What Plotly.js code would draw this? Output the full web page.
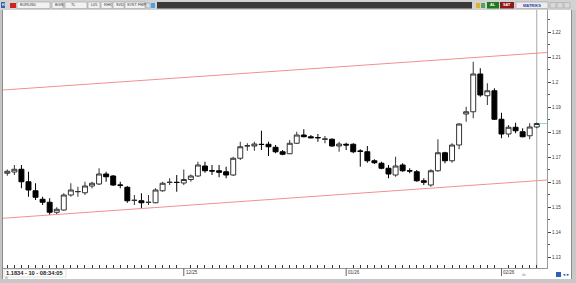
<!DOCTYPE html>
<html><head><meta charset="utf-8">
<script src="https://cdn.plot.ly/plotly-3.0.1.min.js"></script>
<style>
body{margin:0;width:576px;height:283px;overflow:hidden;background:#fff}
#chart{position:absolute;left:0;top:0;width:576px;height:283px}
</style></head><body>
<div id="chart"></div>
<script>
// ---- data (EURUSD daily candles) ----
const open  = [1.1635,1.1640,1.1651,1.1601,1.1565,1.1531,1.1519,1.1479,1.1488,1.1548,
               1.1561,1.1557,1.1584,1.1592,1.1632,1.1624,1.1588,1.1579,1.1526,1.1525,
               1.1518,1.1517,1.1565,1.1598,1.1599,1.1596,1.1610,1.1624,1.1664,1.1645,
               1.1645,1.1641,1.1628,1.1695,1.1744,1.1744,1.1751,1.1751,1.1739,1.1721,
               1.1713,1.1755,1.1788,1.1781,1.1778,1.1771,1.1771,1.1744,1.1751,1.1751,
               1.1724,1.1721,1.1685,1.1675,1.1655,1.1628,1.1668,1.1645,1.1641,1.1605,
               1.1588,1.1645,1.1717,1.1685,1.1748,1.1872,1.1881,1.2032,1.1945,1.1965,
               1.1851,1.1792,1.1819,1.1801,1.1785,1.1820];
const high  = [1.1650,1.1668,1.1668,1.1641,1.1595,1.1541,1.1535,1.1499,1.1555,1.1595,
               1.1581,1.1601,1.1601,1.1655,1.1641,1.1628,1.1601,1.1584,1.1548,1.1555,
               1.1548,1.1575,1.1601,1.1615,1.1628,1.1650,1.1630,1.1681,1.1681,1.1668,
               1.1668,1.1661,1.1701,1.1761,1.1755,1.1761,1.1805,1.1761,1.1748,1.1728,
               1.1768,1.1801,1.1811,1.1788,1.1792,1.1784,1.1775,1.1761,1.1757,1.1755,
               1.1731,1.1744,1.1691,1.1681,1.1668,1.1701,1.1675,1.1655,1.1648,1.1615,
               1.1651,1.1771,1.1721,1.1755,1.1835,1.1901,1.2081,1.2055,1.1995,1.1975,
               1.1877,1.1828,1.1837,1.1815,1.1835,1.1837];
const low   = [1.1625,1.1628,1.1575,1.1541,1.1528,1.1508,1.1468,1.1468,1.1485,1.1541,
               1.1541,1.1548,1.1575,1.1588,1.1601,1.1584,1.1575,1.1517,1.1508,1.1495,
               1.1508,1.1515,1.1561,1.1588,1.1561,1.1588,1.1601,1.1621,1.1637,1.1628,
               1.1619,1.1615,1.1624,1.1688,1.1725,1.1725,1.1728,1.1704,1.1715,1.1707,
               1.1715,1.1752,1.1779,1.1775,1.1761,1.1755,1.1741,1.1721,1.1728,1.1715,
               1.1661,1.1677,1.1672,1.1651,1.1615,1.1621,1.1641,1.1635,1.1601,1.1588,
               1.1581,1.1641,1.1675,1.1677,1.1731,1.1841,1.1855,1.1941,1.1908,1.1848,
               1.1775,1.1779,1.1795,1.1779,1.1771,1.1815];
const close = [1.1643,1.1651,1.1601,1.1568,1.1539,1.1519,1.1479,1.1491,1.1548,1.1568,
               1.1562,1.1584,1.1595,1.1632,1.1621,1.1588,1.1587,1.1525,1.1527,1.1517,
               1.1519,1.1568,1.1595,1.1599,1.1598,1.1610,1.1624,1.1668,1.1645,1.1644,
               1.1639,1.1628,1.1695,1.1741,1.1745,1.1752,1.1750,1.1741,1.1721,1.1711,
               1.1755,1.1788,1.1781,1.1777,1.1777,1.1772,1.1744,1.1752,1.1748,1.1721,
               1.1723,1.1685,1.1677,1.1655,1.1632,1.1664,1.1645,1.1644,1.1605,1.1599,
               1.1645,1.1717,1.1685,1.1748,1.1832,1.1881,1.2032,1.1948,1.1965,1.1851,
               1.1792,1.1819,1.1805,1.1781,1.1820,1.1834];
const yTickVals = [1.13,1.14,1.15,1.16,1.17,1.18,1.19,1.20,1.21,1.22];
const yTickText = ['1.13','1.14','1.15','1.16','1.17','1.18','1.19','1.2','1.21','1.22'];
const monthIdx    = [26,49,71];
const monthLabels = ['12/25','01/26','02/26'];
const trendX = [0.39,77.45];
const upperY = [1.1968,1.2118];
const lowerY = [1.1455,1.1608];
const lastPrice = 1.1834;
const statusText = '1.1834 - 10 - 08:34:05';
const toolbarItems = [
  {x0:17,x1:50,tx:19,text:'EURUSD'},
  {x0:52,x1:63,tx:54,text:'BGN'},
  {x0:65,x1:87,tx:70,text:'TL'},
  {x0:88,x1:100,tx:89.5,text:'L05'},
  {x0:101,x1:112,tx:102.5,text:'KHK'},
  {x0:113,x1:124,tx:114.5,text:'SVD'},
  {x0:125,x1:145,tx:126,text:'SYKT FMP'}
];

// ---- build ----
const idx = close.map((_, k) => k + 1);
const W = 576, H = 283, L = 3, R = 547, T = 10, B = 268;
const px = x => (x - L) / (R - L);
const py = y => (B - y) / (B - T);
const tickIdx = idx.filter(i => monthIdx.indexOf(i) < 0);

const shapes = [];
const ann = [];
function rect(x0, y0, x1, y1, fill, lc, lw) {
  shapes.push({type:'rect', xref:'paper', yref:'paper', x0:px(x0), x1:px(x1), y0:py(y1), y1:py(y0),
    fillcolor:fill, line:{color:lc || fill, width: lw === undefined ? (lc ? 1 : 0) : lw}, layer:'above'});
}
function txt(x, y, t, size, color, anchor, bold) {
  ann.push({xref:'paper', yref:'paper', x:px(x), y:py(y), text: bold ? '<b>'+t+'</b>' : t, showarrow:false,
    xanchor: anchor || 'left', yanchor:'middle', borderpad:0,
    font:{size:size, color:color, family:'Liberation Sans, Arial, sans-serif'}});
}

// cursor line through last candle & current price marker
shapes.push({type:'line', xref:'x', yref:'paper', x0:76, x1:76, y0:0, y1:1, line:{color:'#a8a8a8', width:1}, layer:'below'});
shapes.push({type:'line', xref:'x', yref:'y', x0:76.35, x1:77.45, y0:lastPrice, y1:lastPrice, line:{color:'#7fdede', width:1}, layer:'above'});

// month markers
monthIdx.forEach((m, k) => {
  shapes.push({type:'line', xref:'x', yref:'paper', x0:m, x1:m, y0:py(268), y1:py(276), line:{color:'#666', width:1}});
  ann.push({xref:'x', yref:'paper', x:m, xshift:1, y:py(272.5), text:monthLabels[k], showarrow:false,
    xanchor:'left', yanchor:'middle', borderpad:0, font:{size:4.5, color:'#333', family:'Liberation Sans, Arial, sans-serif'}});
});

// frame
rect(0, 0, 3, 283, '#c4c4c4');
shapes.push({type:'line', xref:'paper', yref:'paper', x0:px(2.5), x1:px(2.5), y0:py(10), y1:py(279), line:{color:'#8c8c8c', width:1}, layer:'above'});
rect(571, 0, 576, 283, '#c8c8c8');
shapes.push({type:'line', xref:'paper', yref:'paper', x0:px(571.5), x1:px(571.5), y0:py(10), y1:py(279), line:{color:'#8c8c8c', width:1}, layer:'above'});
rect(0, 279, 576, 283, '#c8c8c8');
rect(0, 0, 576, 10, '#d2d2d2');
// toolbar
rect(1, 2, 5, 8, '#3b5fa8');
txt(3, 5, 'H', 3.5, '#fff', 'center', true);
rect(10, 3, 16, 8, '#d02020');
toolbarItems.forEach(it => { rect(it.x0, 2, it.x1, 8.5, '#f2f2f2', '#a0a0a0', 0.6); txt(it.tx, 5.3, it.text, 3.8, '#333'); });
rect(146, 3, 150, 8, '#e0e0e0', '#a0a0a0', 0.6);
rect(151, 3, 155, 8, '#4aa3e0');
rect(157, 2, 472, 8.5, '#3a3a3a');
rect(476, 3, 480, 8, '#e0b030');
rect(481, 3, 485, 8, '#5aa05a');
rect(487, 2, 499, 8.5, '#1f7a1f');
txt(493, 5.3, 'AL', 3.8, '#ffffff', 'center', true);
rect(500, 2, 514, 8.5, '#8a1a1a');
txt(507, 5.3, 'SAT', 3.8, '#ffffff', 'center', true);
rect(516, 2, 548, 8.5, '#ececf2', '#a0a0a0', 0.6);
txt(532, 5.3, 'MATRIKS', 4, '#2a3f9a', 'center', true);
rect(550, 2.5, 556, 8, '#d8d8d8', '#a8a8a8', 0.6);
rect(557, 2.5, 563, 8, '#d8d8d8', '#a8a8a8', 0.6);
rect(564, 2.5, 570, 8, '#d8d8d8', '#a8a8a8', 0.6);
// status bar
rect(4, 269.5, 66, 277, '#ffffff', '#d0d0d0', 0.6);
txt(4.5, 273.3, statusText, 5.7, '#222', 'left', true);
txt(4, 278, 'ılı', 3.5, '#666', 'left');
txt(521, 274.5, 'ılıı', 3.5, '#666', 'left');
rect(556, 272, 561, 277, '#3060b0');
txt(566, 274.5, '◄►', 4, '#2050a0', 'center');

const traces = [
  {type:'scatter', mode:'lines', x:trendX, y:upperY, line:{color:'#f29090', width:1}, hoverinfo:'skip', showlegend:false},
  {type:'scatter', mode:'lines', x:trendX, y:lowerY, line:{color:'#f29090', width:1}, hoverinfo:'skip', showlegend:false},
  {type:'candlestick', x:idx, open:open, high:high, low:low, close:close, whiskerwidth:0,
   increasing:{line:{color:'#333333', width:1}, fillcolor:'#ffffff'},
   decreasing:{line:{color:'#000000', width:1}, fillcolor:'#000000'},
   hoverinfo:'skip', showlegend:false}
];

const layout = {
  width:W, height:H,
  margin:{l:L, r:W-R, t:T, b:H-B, pad:0, autoexpand:false},
  paper_bgcolor:'#ffffff', plot_bgcolor:'#ffffff',
  showlegend:false, boxgap:0.3, boxgroupgap:0,
  font:{family:'Liberation Sans, Arial, sans-serif', size:5, color:'#333'},
  xaxis:{range:[0.39,77.45], tickmode:'array', tickvals:tickIdx, showticklabels:false,
         ticks:'inside', ticklen:3, tickwidth:1, tickcolor:'#333',
         showline:true, linecolor:'#999', linewidth:1, showgrid:false, zeroline:false,
         rangeslider:{visible:false}, fixedrange:true},
  yaxis:{side:'right', range:[1.1256,1.2288], tickmode:'array', tickvals:yTickVals, ticktext:yTickText,
         ticks:'outside', ticklen:3, tickwidth:1, tickcolor:'#444',
         tickfont:{size:4.5, color:'#333', family:'Liberation Sans, Arial, sans-serif'},
         minor:{dtick:0.005, tick0:1.125, ticks:'outside', ticklen:2, tickcolor:'#555', showgrid:false},
         showline:true, linecolor:'#999', linewidth:1, showgrid:false, zeroline:false, automargin:false, fixedrange:true},
  shapes:shapes, annotations:ann
};
Plotly.newPlot('chart', traces, layout, {staticPlot:true, displayModeBar:false});
</script>
</body></html>
